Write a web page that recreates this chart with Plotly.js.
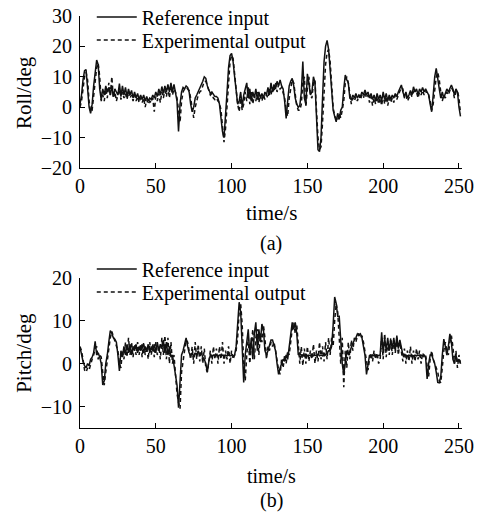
<!DOCTYPE html>
<html>
<head>
<meta charset="utf-8">
<script src="https://cdn.plot.ly/plotly-3.0.1.min.js"></script>
<style>html,body{margin:0;padding:0;background:#fff;}#chart{width:478px;height:516px;}</style>
</head>
<body>
<div id="chart"></div>
<script>
const rollRef = [
1,4,9,12,12.4,7,0,-2,1,7,
12,15.5,14,6,2.4,6,4,7,5,6.5,
4,7,3.5,6,5,4,7.8,3.5,7,4,
6.5,3.5,6,4,5.5,3,5,3,4.5,2.5,
4,2.5,4,2,3.5,2,3,2.5,4,3,
5,3.5,6,4,6.8,4.5,7,5,7.5,5,
8,5,7.5,4,2,-8,1,5,6.5,6,
7,6.5,5,1,-1.5,0,3,4,5,6,
7,8.5,10,9.5,7,5.5,4.5,5,4,3.5,
3.5,3,1,-3,-8,-10,-4,5,13,17,
17.7,15,10,5,1,2,5,0,4,6,
8,3,6,2,5,3,6,2.5,5,3,
4.5,3,5,4,6.5,4,8,5,7.5,6,
8.5,7,9,7,6,2,-3.7,2,7,8.5,
9.5,7,3,1,0,0.5,5,15,3,1,
11,8,4,5,10,8,-5,-14,-14.6,-10,
3,15,20,22,19,12,3,-1,-3,-4.8,
-2,-4,-1,0,6,10.6,9,8,3,2.5,
4,3,4.5,3,4,3.5,5,4,5.7,4,
5,3,4.5,2.5,4,2,4.5,2.5,4,2,
5,2.5,4.5,2,4,2.5,4,3,4.5,3.5,
5,6,7.3,5,3.5,5,3,4,5.5,4,
6.7,5,6,4,6,5,6.5,5,6,5,
4,1,-1.5,4,10,12.8,10,6,3,5,
3,4.5,6,5,6.5,7.3,6,4,6,5,
0,-3];

const rollExp = [
0,2,6,10,11.5,9,2,-1.5,-1,4,
9,13,14.5,10,2,4,2,6,3,8,
4,10,3,5,2,4,6,2.5,5,3,
4.5,2.5,5,3,4,2,4,2,3.5,1.5,
3,1.5,3,0,2.5,1,2,1.5,3,-1.5,
3.5,2,4.5,1.5,5,3,5.5,3.5,6.5,3,
7,4,6,5,3,-1,-5,2,5,6,
6.5,6,5.5,3,-1,-3.5,0,2.5,4,5,
5.5,7,8.5,8.5,7,5,4,4.5,3,2.5,
3,2,1.5,-1,-6,-11.5,-7,1,9,15,
17,16,11,6,1,-1.5,3,-1,1,5,
2,7,1,5,1,4,2,5,1.5,4,
2,4,2.5,4,3,6,4,6.5,5,8,
5,7.5,6,6.5,5,3,-1,-3,3,7,
9,8,4,0.5,-1,-1,1,8,10,0,
6,10,4,3,8,9,-1,-10,-14,-13,
-5,6,14,18,19,15,7,0,-3,-4,
-4.5,-2,-3.5,-1,2,8,10,8,5,1,
3,2,3.5,2,4,2.5,4,3,5,3,
4,1.5,3.5,0.5,3,1,3.5,1,3,0.5,
4,1,3.5,0.5,3,1.5,3,1.5,4,2.5,
4,5,6.5,6,3,4,2,3,4.5,3.5,
5,5.5,5,3,5,4,5.5,4,5.5,4,
4,2,-1,1,6,10,11.5,9,5,2,
4,3,5,4,5.5,6.5,5.5,3,5,5.5,
3,-2];

const pitchRef = [
3.8,2,0.5,-0.5,-1,0,-0.5,1,1.5,2.5,
5.2,2,2.5,1.5,0,-5,-4,0,2,5,
7.7,7,6,5.7,5,2,-1.7,3,1.5,4,
2,4.5,2.5,4.5,2,4,3,4.5,2.5,4,
3,4.5,2.5,4,3,4.5,2.5,4,3,4.5,
2.5,5,3,4.5,3.5,5.5,2.5,5,2,4,
1.5,2,0,-2,-5,-10.3,-4,2,3,5,
6,4,2.5,2,2.5,1.5,2.5,2,3,2,
2.5,1.5,1,0,-2,0.5,2,1.8,2,1.8,
2,1.8,2,1.8,2,1.8,2,1.8,2,1.8,
2,1.8,2,4,10,14.3,12,3,-4.4,2,
5,8,2,6,1,7,9.6,3,8,5,
9.2,8,3,2,3,4,5.5,5.5,4.5,3,
0,-2.5,-1,0,1,0.5,2,1,4,8,
9.6,8,9.6,7,2,2.5,1.8,2,1.8,2.2,
1.8,2,1.8,2.2,1.8,2,1.8,2.2,1.8,2,
1.8,2.2,2,2.5,3,3,4,9,15.5,14,
11,11,5,0,-2.5,1,3,2,3,4,
5,5.5,6,6.9,6.5,6.9,6,4,2,-2.5,
0,2,1.5,2,1.8,2,1.8,2,2,7.3,
2.5,6,3,6,3,5.5,3.5,6,3,6.5,
3.5,5.5,4,2,1.8,2,1.8,2,1.8,2,
1.8,2,1.8,2,1.8,2,1.8,2,1.5,-3.6,
0,2,2,1,0,-2,-4.4,-4.5,-3,2,
5.7,4,2,4,6.9,5,1,0,2,0.5,
1,0];

const pitchExp = [
4,3,1,-1.5,-2,-1,-1.5,0,1,2,
3.5,4,1,2,1.5,-2,-5,-2,1,3,
6,7.5,6.5,5,4,3,0,-1,3,1,
5,1.5,6,2,5,1.5,4.5,2,5,2,
4.5,1.5,5,2,4,1,5,2,4.5,1.5,
5,2,4,1,6,2,6.5,1,6,0,
5,0,2,-3,-7,-9,-10.5,-2,1,3,
5.5,5,3,1,4,0,5,1,4.5,0.5,
4,0,3.5,-1,-2,0,3,0,4,1,
3.5,0,4,1,5,0,3,1,4,0,
3,1,2,3,6,12,14,9,0,-4,
2,6,0,5,8,1,6,8,2,7,
5,9,6,1,4,3,5,4,5,3,
1,-1.5,-2.5,1,-1,2,0,3,2,5,
8,9.5,7,9,4,0,4,-0.5,3.5,0,
4,0.5,3,1,4.5,0,3,0.5,5,1,
4,0.5,5,1,6,2,6,4,10,14,
12,7,0,6,-5.5,3,-1,5,1,5.5,
3,6,5,6.5,7,6,6.5,5,3,0,
-1.5,1,2.5,0.5,3,1,2.5,0,1,6,
1,7,1.5,5,2,6,2,5.5,2.5,6,
2,5,3,0.5,3.5,0,3,0.5,4,0,
3,0.5,3.5,1,3,0,2.5,1.5,2,0,
-3,1,3,1,0,-1,-2,-4,-4.5,-1,
3,5,3,2,5,6.5,4,0,3,-1,
2,0];

const timeS = rollRef.map((_, i) => i);
const xTicks = [0, 50, 100, 150, 200, 250];
const rollTicks = [-20, -10, 0, 10, 20, 30];
const pitchTicks = [-10, 0, 10, 20];
const seriesNames = ['Reference input', 'Experimental output'];

const FONT = 'Liberation Serif, Times New Roman, serif';
const solid = {color: '#111', width: 1.5};
const dotted = {color: '#111', width: 1.5, dash: '4px,3px'};

const traces = [
  {x: timeS, y: rollRef, type: 'scatter', mode: 'lines', name: seriesNames[0], line: solid, xaxis: 'x', yaxis: 'y', legend: 'legend'},
  {x: timeS, y: rollExp, type: 'scatter', mode: 'lines', name: seriesNames[1], line: dotted, xaxis: 'x', yaxis: 'y', legend: 'legend2'},
  {x: timeS, y: pitchRef, type: 'scatter', mode: 'lines', name: seriesNames[0], line: solid, xaxis: 'x2', yaxis: 'y2', legend: 'legend3'},
  {x: timeS, y: pitchExp, type: 'scatter', mode: 'lines', name: seriesNames[1], line: dotted, xaxis: 'x2', yaxis: 'y2', legend: 'legend4'}
];

function axisBase() {
  return {
    showline: true, linecolor: '#000', linewidth: 1,
    ticks: 'inside', ticklen: 5, tickcolor: '#000', tickwidth: 1,
    showgrid: false, zeroline: false, automargin: false,
    tickfont: {family: FONT, size: 20, color: '#000'}
  };
}

function legendAt(yc) {
  return {
    xref: 'container', yref: 'container',
    x: 0.192, xanchor: 'left', y: yc, yanchor: 'middle',
    bgcolor: 'rgba(0,0,0,0)', borderwidth: 0,
    font: {family: FONT, size: 20, color: '#000'},
    tracegroupgap: 0, itemwidth: 40
  };
}

const layout = {
  width: 478, height: 516,
  margin: {l: 80, r: 16, t: 16, b: 88, autoexpand: false},
  paper_bgcolor: '#fff', plot_bgcolor: '#fff',
  font: {family: FONT, size: 20, color: '#000'},
  showlegend: true,
  xaxis: Object.assign(axisBase(), {domain: [0, 1], anchor: 'y', range: [0, 252], tickvals: xTicks}),
  yaxis: Object.assign(axisBase(), {domain: [0.6311, 1], anchor: 'x', range: [-20, 30], tickvals: rollTicks, ticklabelstandoff: 3}),
  xaxis2: Object.assign(axisBase(), {domain: [0, 1], anchor: 'y2', range: [0, 252], tickvals: xTicks}),
  yaxis2: Object.assign(axisBase(), {domain: [0, 0.3648], anchor: 'x2', range: [-15, 20], tickvals: pitchTicks, ticklabelstandoff: 3}),
  legend: legendAt(0.96705),
  legend2: legendAt(0.92248),
  legend3: legendAt(0.47868),
  legend4: legendAt(0.43411),
  annotations: [
    {text: 'Roll/deg', xref: 'paper', yref: 'paper', x: -0.147, y: 0.815, textangle: -90, showarrow: false, xanchor: 'center', yanchor: 'middle', font: {family: FONT, size: 21}},
    {text: 'time/s', xref: 'paper', yref: 'paper', x: 0.5, y: 0.5218, showarrow: false, xanchor: 'center', yanchor: 'middle', font: {family: FONT, size: 21}},
    {text: '(a)', xref: 'paper', yref: 'paper', x: 0.5, y: 0.447, showarrow: false, xanchor: 'center', yanchor: 'middle', font: {family: FONT, size: 20}},
    {text: 'Pitch/deg', xref: 'paper', yref: 'paper', x: -0.147, y: 0.182, textangle: -90, showarrow: false, xanchor: 'center', yanchor: 'middle', font: {family: FONT, size: 21}},
    {text: 'time/s', xref: 'paper', yref: 'paper', x: 0.5, y: -0.1165, showarrow: false, xanchor: 'center', yanchor: 'middle', font: {family: FONT, size: 20}},
    {text: '(b)', xref: 'paper', yref: 'paper', x: 0.5, y: -0.1748, showarrow: false, xanchor: 'center', yanchor: 'middle', font: {family: FONT, size: 20}}
  ]
};

Plotly.newPlot('chart', traces, layout, {displayModeBar: false, staticPlot: true});
</script>
</body>
</html>
